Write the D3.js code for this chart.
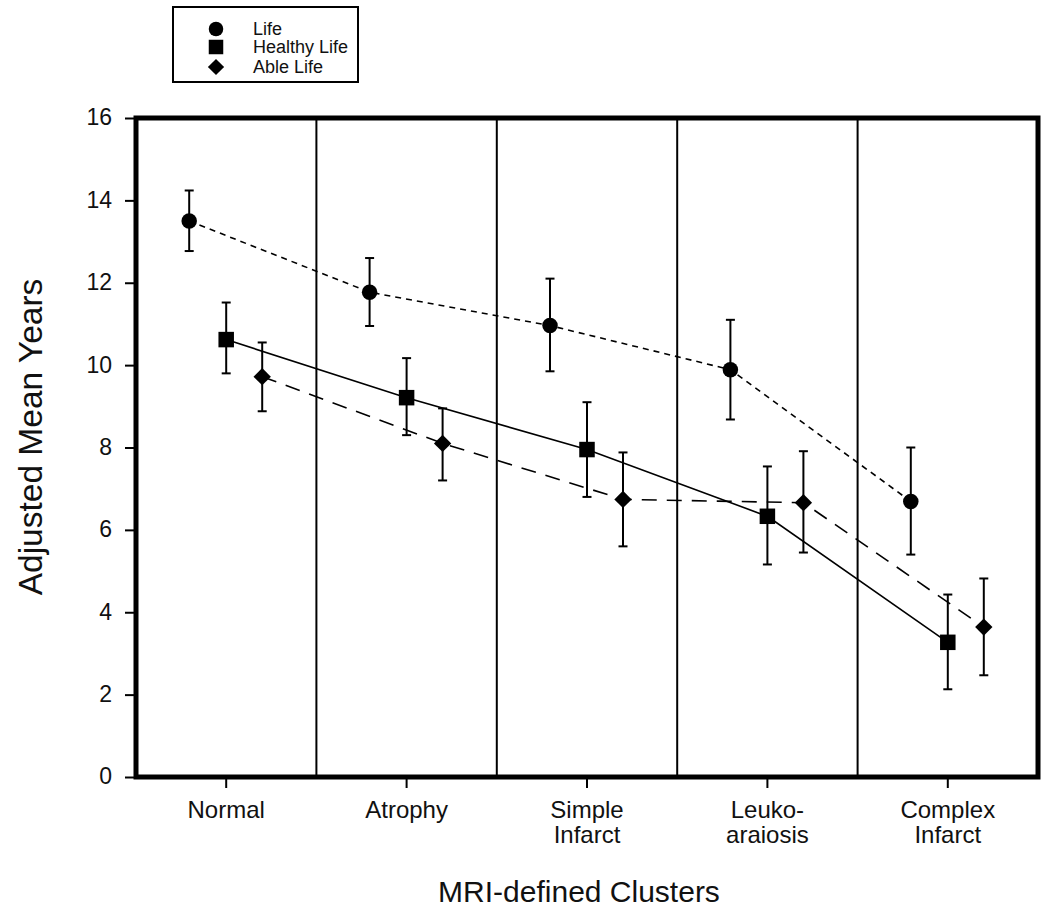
<!DOCTYPE html>
<html>
<head>
<meta charset="utf-8">
<script src="https://cdn.jsdelivr.net/npm/d3@7"></script>
<style>
  body { margin: 0; background: #fff; }
  svg { display: block; font-family: "Liberation Sans", Arial, Helvetica, sans-serif; }
</style>
</head>
<body>
<svg id="chart" width="1050" height="912"></svg>
<script>
// ---- data ----
const categories = ["Normal", "Atrophy", "Simple Infarct", "Leuko-araiosis", "Complex Infarct"];
const categoryLabelLines = [["Normal"], ["Atrophy"], ["Simple", "Infarct"], ["Leuko-", "araiosis"], ["Complex", "Infarct"]];
const seriesNames = ["Life", "Healthy Life", "Able Life"];
const lifeMean = [13.5, 11.77, 10.96, 9.89, 6.69];
const lifeLow  = [12.77, 10.95, 9.85, 8.68, 5.40];
const lifeHigh = [14.24, 12.60, 12.10, 11.10, 8.00];
const healthyMean = [10.62, 9.21, 7.95, 6.33, 3.27];
const healthyLow  = [9.80, 8.30, 6.80, 5.16, 2.13];
const healthyHigh = [11.52, 10.17, 9.10, 7.54, 4.43];
const ableMean = [9.72, 8.10, 6.74, 6.66, 3.64];
const ableLow  = [8.88, 7.20, 5.60, 5.45, 2.47];
const ableHigh = [10.55, 8.95, 7.88, 7.91, 4.82];
const yTicks = [0, 2, 4, 6, 8, 10, 12, 14, 16];

// ---- layout ----
const svg = d3.select("#chart");
const pLeft = 136, pRight = 1038, pTop = 118, pBottom = 777;
const font = '"Liberation Sans", Arial, Helvetica, sans-serif';

const x = d3.scaleBand().domain(categories).range([pLeft, pRight]).paddingInner(0).paddingOuter(0);
const y = d3.scaleLinear().domain([0, 16]).range([pBottom, pTop]);
const cx = c => x(c) + x.bandwidth() / 2;

const series = [
  { name: seriesNames[0], mean: lifeMean, low: lifeLow, high: lifeHigh, offset: -37, shape: "circle", dash: "6,5", width: 1.6 },
  { name: seriesNames[1], mean: healthyMean, low: healthyLow, high: healthyHigh, offset: 0, shape: "square", dash: null, width: 1.6 },
  { name: seriesNames[2], mean: ableMean, low: ableLow, high: ableHigh, offset: 36, shape: "diamond", dash: "15,10", width: 1.6 }
];

// separators between clusters
svg.append("g").selectAll("line")
  .data(categories.slice(1))
  .join("line")
  .attr("x1", d => x(d)).attr("x2", d => x(d))
  .attr("y1", pTop).attr("y2", pBottom)
  .attr("stroke", "#000").attr("stroke-width", 2);

// y axis
const yAxis = svg.append("g")
  .attr("transform", `translate(${pLeft},0)`)
  .call(d3.axisLeft(y).tickValues(yTicks).tickSize(11).tickPadding(13).tickFormat(d3.format("d")));
yAxis.select(".domain").remove();
yAxis.selectAll(".tick line").attr("stroke-width", 2);
yAxis.selectAll(".tick text").attr("font-size", 23).attr("font-family", font).attr("fill", "#111").attr("dy", "0.3em");

// x axis ticks
const xAxis = svg.append("g")
  .attr("transform", `translate(0,${pBottom})`)
  .call(d3.axisBottom(x).tickSize(11).tickFormat(""));
xAxis.select(".domain").remove();
xAxis.selectAll(".tick line").attr("stroke-width", 2);

// category labels
const catG = svg.append("g");
categories.forEach((c, i) => {
  const t = catG.append("text")
    .attr("x", cx(c)).attr("y", 818)
    .attr("text-anchor", "middle")
    .attr("font-size", 24).attr("font-family", font).attr("fill", "#111");
  categoryLabelLines[i].forEach((ln, j) => {
    t.append("tspan").attr("x", cx(c)).attr("dy", j === 0 ? 0 : 25).text(ln);
  });
});

// connecting lines
const line = d3.line().x(d => d.x).y(d => d.y);
series.forEach(s => {
  const pts = categories.map((c, i) => ({ x: cx(c) + s.offset, y: y(s.mean[i]) }));
  svg.append("path")
    .attr("d", line(pts))
    .attr("fill", "none")
    .attr("stroke", "#000")
    .attr("stroke-width", s.width)
    .attr("stroke-dasharray", s.dash);
});

// markers
function drawMarker(g, shape, px, py, size) {
  if (shape === "circle") {
    g.append("circle").attr("cx", px).attr("cy", py).attr("r", size / 2).attr("fill", "#000");
  } else if (shape === "square") {
    g.append("rect").attr("x", px - size / 2).attr("y", py - size / 2).attr("width", size).attr("height", size).attr("fill", "#000");
  } else {
    const h = size * 0.56;
    g.append("path").attr("d", `M${px},${py - h}L${px + h},${py}L${px},${py + h}L${px - h},${py}Z`).attr("fill", "#000");
  }
}

// error bars and markers
series.forEach(s => {
  const g = svg.append("g");
  categories.forEach((c, i) => {
    const px = cx(c) + s.offset;
    g.append("line").attr("x1", px).attr("x2", px).attr("y1", y(s.low[i])).attr("y2", y(s.high[i]))
      .attr("stroke", "#000").attr("stroke-width", 2);
    [s.low[i], s.high[i]].forEach(v => {
      g.append("line").attr("x1", px - 4.5).attr("x2", px + 4.5).attr("y1", y(v)).attr("y2", y(v))
        .attr("stroke", "#000").attr("stroke-width", 2);
    });
    drawMarker(g, s.shape, px, y(s.mean[i]), 15.5);
  });
});

// frame
svg.append("rect")
  .attr("x", pLeft).attr("y", pTop)
  .attr("width", pRight - pLeft).attr("height", pBottom - pTop)
  .attr("fill", "none").attr("stroke", "#000").attr("stroke-width", 5);

// axis titles
svg.append("text")
  .attr("transform", `translate(30,437) rotate(-90)`)
  .attr("text-anchor", "middle").attr("dy", "0.35em")
  .attr("font-size", 33.5).attr("font-family", font).attr("fill", "#111")
  .text("Adjusted Mean Years");

svg.append("text")
  .attr("x", 579).attr("y", 902)
  .attr("text-anchor", "middle")
  .attr("font-size", 30).attr("font-family", font).attr("fill", "#111")
  .text("MRI-defined Clusters");

// legend
const lg = svg.append("g");
lg.append("rect").attr("x", 173).attr("y", 7).attr("width", 185).attr("height", 75)
  .attr("fill", "#fff").attr("stroke", "#000").attr("stroke-width", 2);
const legendY = [29, 47, 67];
series.forEach((s, i) => {
  drawMarker(lg, s.shape, 216, legendY[i], 14.5);
  lg.append("text").attr("x", 253).attr("y", legendY[i] + 6)
    .attr("font-size", 18).attr("font-family", font).attr("fill", "#111")
    .text(s.name);
});
</script>
</body>
</html>
